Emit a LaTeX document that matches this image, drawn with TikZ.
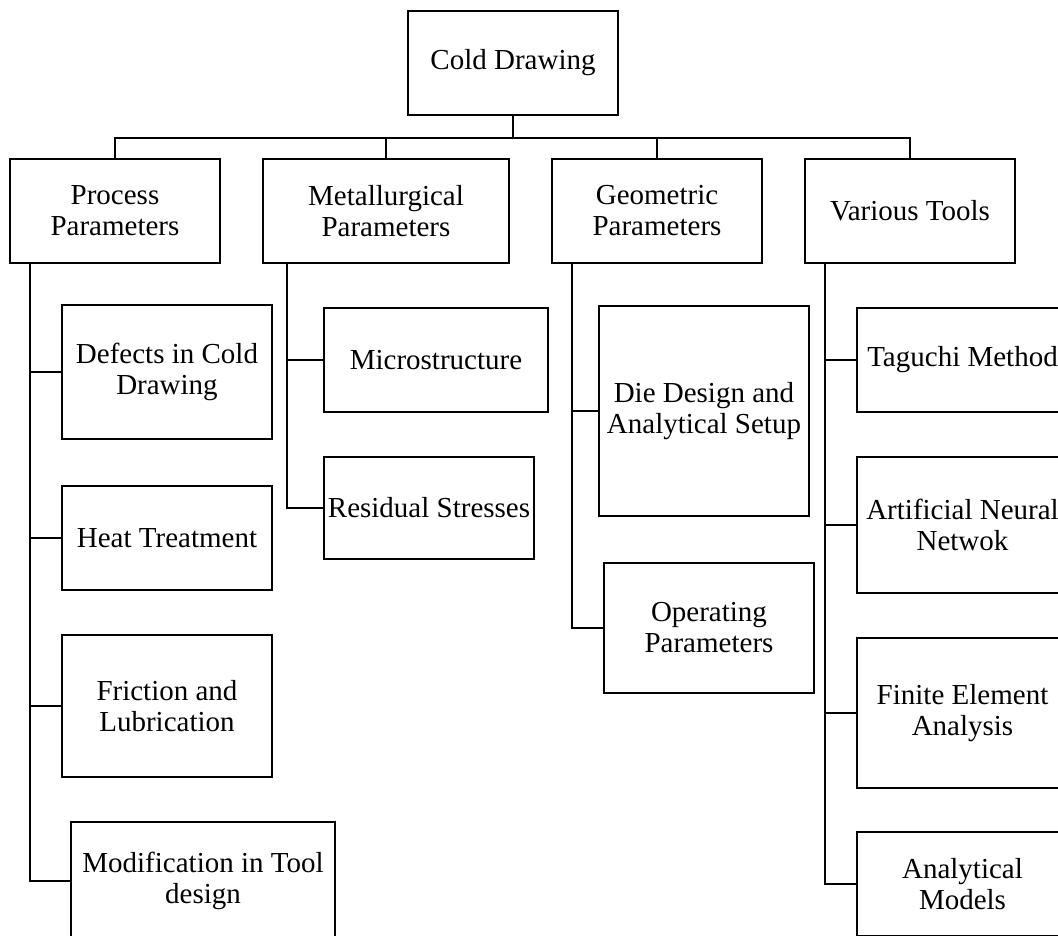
\documentclass[tikz,border=0pt]{standalone}
\usepackage{fontspec}
\setmainfont{Liberation Serif}
\usepackage{tikz}
\usetikzlibrary{positioning}

\tikzset{
    box/.style={
        draw,
        rectangle,
        align=center,
        line width=2pt,
        inner sep=1pt,
        font=\fontsize{29}{31}\selectfont
    },
    link/.style={line width=2pt}
}

\begin{document}
\begin{tikzpicture}[x=1pt, y=-1pt]
        \useasboundingbox (0, 0) rectangle (1058, 936);

        % root and main branches
        \node [box, minimum width=210pt, minimum height=104pt] (cold) at (513, 63) {Cold Drawing};
        \node [box, minimum width=210pt, minimum height=104pt] (proc) at (115, 211) {Process\\Parameters};
        \node [box, minimum width=246pt, minimum height=104pt] (metal) at (386, 211) {Metallurgical\\Parameters};
        \node [box, minimum width=210pt, minimum height=104pt] (geo) at (657, 211) {Geometric\\Parameters};
        \node [box, minimum width=210pt, minimum height=104pt] (tools) at (910, 211) {Various Tools};

        % process parameters
        \node [box, minimum width=210pt, minimum height=134pt] (defects) at (167, 372) {Defects in Cold\\Drawing};
        \node [box, minimum width=210pt, minimum height=104pt] (heat) at (167, 538) {Heat Treatment};
        \node [box, minimum width=210pt, minimum height=142pt] (friction) at (167, 706) {Friction and\\Lubrication};
        \node [box, minimum width=264pt, minimum height=118pt] (modif) at (203, 881) {Modification in Tool\\design};

        % metallurgical parameters
        \node [box, minimum width=224pt, minimum height=104pt] (micro) at (436, 360) {Microstructure};
        \node [box, minimum width=210pt, minimum height=102pt] (resid) at (429, 508) {Residual Stresses};

        % geometric parameters
        \node [box, minimum width=210pt, minimum height=210pt] (die) at (704, 411) {Die Design and\\Analytical Setup};
        \node [box, minimum width=210pt, minimum height=130pt] (oper) at (709, 628) {Operating\\Parameters};

        % various tools
        \node [box, minimum width=211pt, minimum height=104pt] (taguchi) at (962.5, 360) {Taguchi Method};
        \node [box, minimum width=211pt, minimum height=136pt] (ann) at (962.5, 525) {Artificial Neural\\Netwok};
        \node [box, minimum width=211pt, minimum height=150pt] (fea) at (962.5, 713) {Finite Element\\Analysis};
        \node [box, minimum width=211pt, minimum height=104pt] (anal) at (962.5, 884) {Analytical\\Models};

        \foreach \n in {proc, metal, geo, tools}
            \draw [link] (cold.south) -- ++(0, 22) -| (\n.north);

        \foreach \n in {defects, heat, friction, modif}
            \draw [link] ([xshift=21pt]proc.south west) |- (\n.west);
        \foreach \n in {micro, resid}
            \draw [link] ([xshift=25pt]metal.south west) |- (\n.west);
        \foreach \n in {die, oper}
            \draw [link] ([xshift=21pt]geo.south west) |- (\n.west);
        \foreach \n in {taguchi, ann, fea, anal}
            \draw [link] ([xshift=21pt]tools.south west) |- (\n.west);
    \end{tikzpicture}
\end{document}
